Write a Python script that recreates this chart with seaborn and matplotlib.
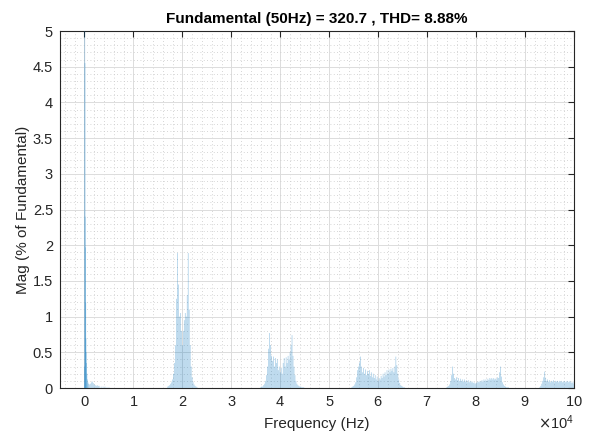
import numpy as np
import matplotlib
matplotlib.use('Agg')
import matplotlib.pyplot as plt
from matplotlib.ticker import MultipleLocator, FuncFormatter
import seaborn as sns

# Spectrum (frequency in Hz, magnitude in % of fundamental)
low_freqs = [0, 50, 100, 150, 200, 250, 300, 350, 400, 500, 600, 700, 800, 1000,
             1200, 1400, 1600, 1800, 2000, 2200, 2400, 2600, 2800, 3000, 3400,
             3800, 4200, 4600, 5000]
low_mags = [0.3, 100, 4.55, 2.4, 1.97, 1.2, 0.7, 0.5, 0.35, 0.2, 0.12, 0.08, 0.06,
            0.05, 0.06, 0.08, 0.09, 0.07, 0.05, 0.04, 0.03, 0.04, 0.03, 0.03, 0.02,
            0.02, 0.02, 0.01, 0.01]

step = 200  # bin spacing used for the switching clusters

c20_start = 17000
c20_mags = [0.02, 0.03, 0.04, 0.06, 0.08, 0.12, 0.2, 0.35, 0.6, 1.25, 1.89, 1.45,
            1.0, 1.05, 0.8, 0.6, 0.8, 0.95, 1.05, 1.0, 1.3, 1.89, 1.1, 0.6, 0.3,
            0.15, 0.08, 0.05, 0.03, 0.02, 0.01]

c40_start = 36000
c40_mags = [0.01, 0.02, 0.02, 0.04, 0.06, 0.1, 0.18, 0.3, 0.55, 0.77, 0.6, 0.45,
            0.38, 0.44, 0.3, 0.42, 0.35, 0.4, 0.25, 0.3, 0.22, 0.28, 0.2, 0.35,
            0.42, 0.3, 0.43, 0.35, 0.45, 0.4, 0.5, 0.6, 0.74, 0.45, 0.3, 0.18, 0.1,
            0.06, 0.04, 0.03, 0.02, 0.02, 0.01, 0.01, 0.01]

c60_start = 54600
c60_mags = [0.01, 0.02, 0.03, 0.05, 0.08, 0.15, 0.25, 0.3, 0.36, 0.44, 0.3, 0.22,
            0.28, 0.2, 0.26, 0.18, 0.24, 0.2, 0.25, 0.17, 0.22, 0.15, 0.2, 0.14,
            0.18, 0.12, 0.16, 0.1, 0.14, 0.12, 0.17, 0.14, 0.2, 0.16, 0.22, 0.18,
            0.25, 0.2, 0.26, 0.22, 0.27, 0.24, 0.28, 0.22, 0.3, 0.44, 0.32, 0.2,
            0.12, 0.07, 0.04, 0.03, 0.02, 0.01, 0.01]

c80_start = 74000
c80_mags = [0.01, 0.02, 0.03, 0.05, 0.1, 0.18, 0.3, 0.2, 0.14, 0.12, 0.15, 0.11,
            0.14, 0.1, 0.13, 0.1, 0.12, 0.09, 0.12, 0.09, 0.11, 0.08, 0.11, 0.08,
            0.1, 0.08, 0.09, 0.07, 0.08, 0.06, 0.07, 0.08, 0.09, 0.08, 0.1, 0.09,
            0.11, 0.09, 0.12, 0.1, 0.12, 0.1, 0.13, 0.11, 0.14, 0.12, 0.14, 0.12,
            0.14, 0.12, 0.13, 0.12, 0.15, 0.14, 0.22, 0.3, 0.16, 0.08, 0.05, 0.03,
            0.02, 0.01, 0.01, 0.01]

c95_start = 93000
c95_mags = [0.01, 0.03, 0.06, 0.1, 0.15, 0.23, 0.14, 0.1, 0.12, 0.09, 0.11, 0.08,
            0.1, 0.09, 0.11, 0.08, 0.1, 0.09, 0.1, 0.08, 0.1, 0.09, 0.1, 0.08, 0.09,
            0.1, 0.08, 0.09, 0.1, 0.08, 0.09, 0.1, 0.08, 0.07, 0.09, 0.06]

title = 'Fundamental (50Hz) = 320.7 , THD= 8.88%'


def cluster(start, mags):
    return [start + i * step for i in range(len(mags))], list(mags)


freqs = list(low_freqs)
mags = list(low_mags)
for start, vals in [(c20_start, c20_mags), (c40_start, c40_mags), (c60_start, c60_mags),
                    (c80_start, c80_mags), (c95_start, c95_mags)]:
    f, m = cluster(start, vals)
    freqs += f
    mags += m

sns.set_theme(style='white')
plt.rcParams['font.family'] = ['Liberation Sans', 'DejaVu Sans']

fig = plt.figure(figsize=(5.9, 4.33), dpi=100)
ax = fig.add_axes([0.1017, 0.1039, 0.8712, 0.8245])

bars = ax.bar(freqs, mags, width=170, color='#0072BD', alpha=0.3, linewidth=0, zorder=3)
for b in bars:
    b.set_snap(False)

ax.set_xlim(-5000, 100000)
ax.set_ylim(0, 5)
ax.xaxis.set_major_locator(MultipleLocator(10000))
ax.xaxis.set_minor_locator(MultipleLocator(2000))
ax.yaxis.set_major_locator(MultipleLocator(0.5))
ax.yaxis.set_minor_locator(MultipleLocator(0.1))
ax.ticklabel_format(axis='x', style='sci', scilimits=(4, 4), useMathText=True)
ax.yaxis.set_major_formatter(FuncFormatter(lambda v, p: f'{v:g}'))

ax.grid(True, which='major', color='#dcdcdc', linewidth=0.7, linestyle='-', zorder=0)
ax.grid(True, which='minor', color='#c8c8c8', linewidth=0.6, linestyle=(0, (1, 3)), zorder=0)
ax.set_axisbelow(True)

ax.tick_params(which='major', direction='in', length=4, width=0.8, colors='#262626',
               labelsize=10.5, top=True, right=True, pad=5)
ax.tick_params(which='minor', length=0)
for s in ax.spines.values():
    s.set_color('#262626')
    s.set_linewidth(0.8)
ax.xaxis.get_offset_text().set_fontsize(10.5)
ax.xaxis.get_offset_text().set_color('#262626')

ax.set_title(title, fontsize=11, fontweight='bold', color='#000000', pad=6)
ax.set_xlabel('Frequency (Hz)', fontsize=11, color='#262626', labelpad=6)
ax.set_ylabel('Mag (% of Fundamental)', fontsize=11, color='#262626', labelpad=2)

fig.savefig('out.png', dpi=100)
